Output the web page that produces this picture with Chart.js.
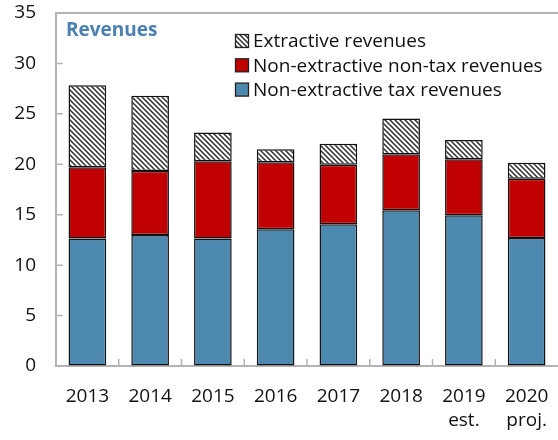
<!DOCTYPE html>
<html>
<head>
<meta charset="utf-8">
<script src="https://cdn.jsdelivr.net/npm/chart.js@4.4.0/dist/chart.umd.min.js"></script>
<style>
	html, body { margin: 0; padding: 0; background: #fff; }
	#wrap { width: 558px; height: 440px; }
</style>
</head>
<body>
<div id="wrap"><canvas id="revenues-graph" width="558" height="440"></canvas></div>
<script>
// Data (percent of GDP)
var categories = ['2013', '2014', '2015', '2016', '2017', '2018', ['2019', 'est.'], ['2020', 'proj.']];
var taxRevenues = [12.65, 13.0, 12.65, 13.55, 14.05, 15.45, 14.95, 12.7];
var nonTaxRevenues = [7.05, 6.33, 7.65, 6.65, 5.9, 5.55, 5.55, 5.87];
var extractiveRevenues = [8.14, 7.47, 2.84, 1.3, 2.09, 3.55, 1.92, 1.59];
var yTicks = [0, 5, 10, 15, 20, 25, 30, 35];

var frameColor = '#b4b4b4';
var fontFamily = "'Open Sans', 'Noto Sans', sans-serif";

var canvas = document.getElementById('revenues-graph');
var ctx = canvas.getContext('2d');

// diagonal hatch for extractive revenues
function makeHatch() {
	var c = document.createElement('canvas');
	c.width = 5; c.height = 5;
	var g = c.getContext('2d');
	g.fillStyle = '#fff';
	g.fillRect(0, 0, 5, 5);
	g.strokeStyle = '#2e2e2e';
	g.lineWidth = 1.5;
	g.beginPath();
	g.moveTo(-1, -1); g.lineTo(6, 6);
	g.moveTo(-1, 4); g.lineTo(1, 6);
	g.moveTo(4, -1); g.lineTo(6, 1);
	g.stroke();
	return ctx.createPattern(c, 'repeat');
}

var barData = {
	labels: categories,
	datasets: [
	{
		label: 'Non-extractive tax revenues',
		data: taxRevenues,
		backgroundColor: '#4d89af',
		borderColor: '#111',
		borderWidth: 1.5,
		borderSkipped: false
	},
	{
		label: 'Non-extractive non-tax revenues',
		data: nonTaxRevenues,
		backgroundColor: '#c00000',
		borderColor: '#111',
		borderWidth: 1.5,
		borderSkipped: false
	},
	{
		label: 'Extractive revenues',
		data: extractiveRevenues,
		backgroundColor: makeHatch(),
		borderColor: '#111',
		borderWidth: 1.5,
		borderSkipped: false
	}
	]
};

// top frame line, inward ticks, title and legend inside the plot
var framePlugin = {
	id: 'frame',
	afterDraw: function(chart) {
		var c = chart.ctx, a = chart.chartArea;
		var xs = chart.scales.x, ys = chart.scales.y;
		c.save();
		c.strokeStyle = frameColor;
		c.lineWidth = 2;
		c.beginPath();
		c.moveTo(a.left - 1, a.top);
		c.lineTo(a.right, a.top);
		c.stroke();

		c.lineWidth = 1.5;
		c.beginPath();
		yTicks.forEach(function(v) {
			var py = ys.getPixelForValue(v);
			c.moveTo(a.left, py);
			c.lineTo(a.left + 7, py);
		});
		for (var i = 0; i < categories.length - 1; i++) {
			var px = (xs.getPixelForTick(i) + xs.getPixelForTick(i + 1)) / 2;
			c.moveTo(px, a.bottom);
			c.lineTo(px, a.bottom - 7);
		}
		c.stroke();

		// title
		c.fillStyle = '#4a80b2';
		c.font = "bold 19px " + fontFamily;
		c.textBaseline = 'alphabetic';
		c.textAlign = 'left';
		c.fillText('Revenues', 66, 36);

		// legend, top entry = top of stack
		c.font = "19px " + fontFamily;
		c.textBaseline = 'middle';
		var items = chart.data.datasets.slice().reverse();
		items.forEach(function(d, k) {
			var cy = 41 + k * 24.3;
			c.fillStyle = d.backgroundColor;
			c.fillRect(235.5, cy - 6.5, 13, 13);
			c.strokeStyle = '#222';
			c.lineWidth = 1.3;
			c.strokeRect(235.5, cy - 6.5, 13, 13);
			c.fillStyle = '#111';
			c.fillText(d.label, 253, cy + 1);
		});
		c.restore();
	}
};

var revenueChart = new Chart(ctx, {
	type: 'bar',
	data: barData,
	plugins: [framePlugin],
	options: {
		responsive: false,
		animation: false,
		layout: { padding: { top: 13, right: 0, left: 0, bottom: 0 } },
		plugins: {
			legend: { display: false },
			tooltip: { enabled: false }
		},
		datasets: {
			bar: { categoryPercentage: 1.0, barPercentage: 0.6 }
		},
		scales: {
			x: {
				stacked: true,
				offset: true,
				grid: { display: true, drawOnChartArea: false, drawTicks: false },
				border: { display: true, color: frameColor, width: 2 },
				ticks: {
					color: '#111',
					padding: 18,
					maxRotation: 0,
					autoSkip: false,
					font: { family: fontFamily, size: 19, lineHeight: 1.3 }
				},
				afterFit: function(scale) {
					scale.height = 74;
					scale.paddingLeft = 0;
					scale.paddingRight = 0;
				}
			},
			y: {
				stacked: true,
				min: 0,
				max: 35,
				grid: { display: true, drawOnChartArea: false, drawTicks: false },
				border: { display: true, color: frameColor, width: 2 },
				ticks: {
					stepSize: 5,
					color: '#111',
					padding: 20,
					font: { family: fontFamily, size: 19 }
				},
				afterFit: function(scale) {
					scale.width = 56;
					scale.paddingTop = 0;
					scale.paddingBottom = 0;
				}
			}
		}
	}
});
</script>
</body>
</html>
